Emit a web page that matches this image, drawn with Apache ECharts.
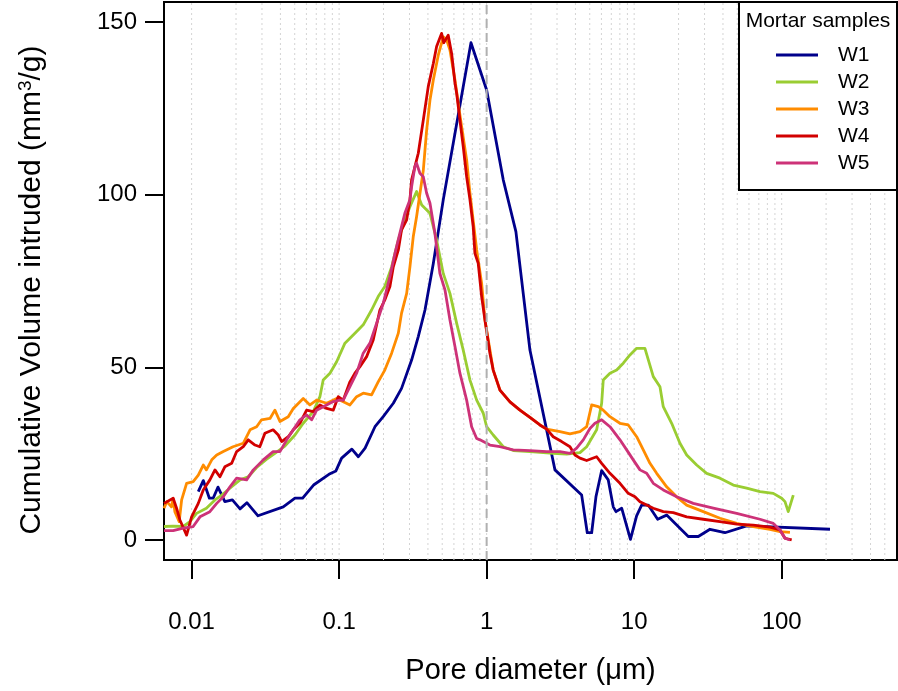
<!DOCTYPE html>
<html>
<head>
<meta charset="utf-8">
<script src="https://cdn.jsdelivr.net/npm/echarts@6/dist/echarts.min.js"></script>
<style>html,body{margin:0;padding:0;background:#fff}#chart{width:898px;height:691px}</style>
</head>
<body>
<div id="chart"></div>
<script>
// ---- data (pore diameter in µm, cumulative volume in mm3/g)
const seriesNames = ['W1', 'W2', 'W3', 'W4', 'W5'];
const xTickValues = [0.01, 0.1, 1, 10, 100];
const yTickValues = [0, 50, 100, 150];

const w1Diameter = [0.0111,0.0120,0.0132,0.0140,0.0151,0.0168,0.0189,0.0213,0.0237,0.0282,0.0418,0.0502,0.0566,0.0675,0.0853,0.0951,0.104,0.122,0.135,0.150,0.175,0.199,0.233,0.265,0.310,0.344,0.382,0.435,0.508,0.783,1.0,1.296,1.579,1.966,2.905,4.407,4.809,5.152,5.508,6.021,6.674,7.215,7.526,8.229,9.438,10.39,11.24,12.46,14.43,16.61,23.27,27.20,32.66,41.27,57.91,212.6];
const w1Volume   = [14.0,17.2,12.1,12.1,15.3,11.1,11.6,9.0,10.8,7.0,9.6,12.1,12.1,16.0,19.0,20.0,23.7,26.3,24.1,26.6,32.8,35.7,39.6,43.9,52.1,58.9,66.6,80.1,98.5,144.0,130.3,104.3,89.3,55.0,20.3,13.0,2.1,2.1,12.5,20.1,17.4,9.6,8.2,9.2,0.2,7.0,10.1,10.1,6.0,7.2,1.0,1.0,3.1,2.1,4.1,3.1];

const w2Diameter = [0.0065,0.0075,0.00877,0.00974,0.0108,0.0126,0.0144,0.0160,0.0187,0.0213,0.0242,0.0276,0.0323,0.0367,0.0429,0.0502,0.0571,0.0668,0.0741,0.0780,0.0867,0.0962,0.1095,0.128,0.1457,0.166,0.184,0.204,0.227,0.252,0.279,0.302,0.335,0.363,0.413,0.458,0.508,0.564,0.626,0.694,0.771,0.856,0.949,1.0,1.108,1.296,1.515,1.966,2.828,3.486,4.292,4.764,5.569,6.022,6.173,6.855,7.610,8.437,9.368,10.40,10.66,11.83,13.48,14.96,15.75,17.96,20.44,22.70,26.53,31.01,38.17,46.98,57.90,71.29,87.74,100,105.3,110.8,119.9];
const w2Volume   = [3.9,4.0,3.9,5.3,7.7,9.2,11.6,13.0,15.4,17.4,18.3,21.0,23.4,25.1,27.2,30.4,33.8,37.2,41.5,46.3,48.3,51.6,57.0,59.9,62.3,66.6,70.5,73.4,79.1,86.9,92.7,96.5,100.9,97.0,94.6,86.9,77.2,71.4,62.8,55.0,46.3,40.5,36.7,32.8,30.4,27.0,25.9,25.6,25.1,24.9,25.3,27.0,31.9,39.6,46.3,48.3,49.2,51.2,53.6,55.5,56.0,55.5,47.3,44.4,38.6,33.8,28.0,24.6,21.7,19.3,17.9,15.9,15.0,14.0,13.5,12.1,11.1,8.2,13.0];

const w3Diameter = [0.0065,0.0068,0.0073,0.0075,0.0077,0.00824,0.00856,0.00925,0.01025,0.0111,0.0120,0.0126,0.0137,0.0148,0.0164,0.0191,0.0224,0.0249,0.0276,0.0298,0.0340,0.0367,0.0397,0.0452,0.0489,0.0571,0.0634,0.0704,0.0823,0.0962,0.1184,0.1314,0.1457,0.166,0.184,0.204,0.227,0.252,0.265,0.287,0.302,0.318,0.335,0.372,0.392,0.413,0.435,0.470,0.508,0.536,0.564,0.610,0.642,0.677,0.732,0.771,0.856,0.925,0.974,1.053,1.108,1.231,1.439,1.682,1.966,2.298,2.552,3.141,3.671,4.292,4.764,5.151,5.711,6.173,6.855,8.012,9.120,10.40,11.53,12.80,14.21,16.61,19.42,22.70,29.41,38.17,49.53,64.16,83.31,97.4,113.8];
const w3Volume   = [9.2,11.1,9.6,12.0,8.2,5.3,11.6,16.4,16.9,18.8,21.7,20.3,23.2,24.6,25.6,27.0,28.0,31.9,32.8,34.8,35.2,37.6,34.3,35.7,38.1,41.0,39.1,40.5,39.6,41.0,39.1,41.5,42.5,42.0,45.8,49.2,54.1,59.9,65.7,71.4,79.1,87.8,93.6,107.0,118.7,127.4,133.2,140.4,145.7,144.8,141.9,133.2,126.5,119.7,110.0,100.4,84.0,74.3,63.7,55.0,49.2,43.4,40.0,37.6,35.5,33.3,32.1,31.4,30.7,31.4,32.8,39.1,38.6,37.6,35.7,33.8,33.3,29.9,26.1,22.2,19.3,15.4,12.5,10.1,8.2,6.3,4.8,3.9,3.1,2.4,2.2];

const w4Diameter = [0.0065,0.0075,0.00791,0.00833,0.00925,0.0100,0.0111,0.0120,0.0133,0.0144,0.01555,0.0168,0.0187,0.0202,0.0224,0.0242,0.0269,0.0290,0.0314,0.0357,0.0387,0.0408,0.0452,0.0489,0.0542,0.0602,0.0668,0.0741,0.0823,0.0912,0.0986,0.1066,0.1184,0.128,0.1384,0.1536,0.1703,0.189,0.204,0.221,0.233,0.252,0.265,0.287,0.302,0.310,0.344,0.372,0.402,0.435,0.458,0.495,0.512,0.549,0.579,0.610,0.626,0.659,0.694,0.732,0.771,0.811,0.833,0.877,0.925,0.974,1.053,1.108,1.231,1.439,1.682,1.966,2.298,2.552,2.828,3.225,3.671,3.969,4.292,4.764,5.569,6.022,6.855,8.012,9.120,10.13,10.95,13.48,15.75,18.41,22.70,29.41,38.17,49.53,64.16,83.31,97.4,105.3,116.9];
const w4Volume   = [10.6,12.1,9.2,5.8,1.4,6.7,10.6,14.5,17.4,20.3,18.3,21.2,22.2,25.6,27.0,29.0,27.5,27.0,30.9,31.9,30.4,28.5,29.9,31.9,33.8,37.6,37.2,39.1,38.1,37.6,41.5,40.5,45.8,48.3,50.2,53.1,57.9,66.6,69.5,73.4,79.1,84.0,89.8,92.7,98.5,104.3,112.0,121.6,131.3,138.0,142.9,146.7,144.0,146.2,140.9,132.3,129.4,121.6,113.9,105.2,98.5,90.7,83.0,80.1,70.5,63.7,54.0,49.2,43.4,40.0,37.6,35.5,33.3,32.1,29.9,28.5,27.0,24.6,23.7,23.0,24.1,22.2,19.3,16.4,13.5,12.5,11.1,9.2,8.2,7.9,6.7,6.0,5.3,4.6,4.3,3.7,2.9,0.5,0.0];

const w5Diameter = [0.0065,0.0075,0.00877,0.01025,0.0114,0.0133,0.0148,0.0164,0.0182,0.0202,0.0236,0.0262,0.0306,0.0357,0.0397,0.0441,0.0489,0.0542,0.0602,0.0651,0.0704,0.0823,0.0912,0.1013,0.1066,0.1314,0.1457,0.1618,0.1796,0.199,0.221,0.239,0.258,0.279,0.302,0.310,0.326,0.335,0.353,0.372,0.392,0.413,0.446,0.482,0.522,0.564,0.610,0.659,0.732,0.791,0.856,0.901,1.0,1.053,1.231,1.515,1.966,2.552,3.141,3.671,4.076,4.519,5.015,5.424,6.022,6.855,8.012,8.897,9.86,10.95,12.15,13.48,15.75,19.42,25.16,34.39,49.53,71.29,87.74,97.4,105.3,113.8];
const w5Volume   = [2.7,2.7,3.4,3.9,6.7,8.2,10.6,12.5,15.4,17.9,17.4,20.3,23.2,25.6,25.6,29.0,31.9,34.8,36.2,34.8,37.6,39.1,40.1,40.5,40.5,48.3,54.1,57.0,62.8,68.5,76.3,83.0,88.8,94.6,98.5,102.3,108.1,109.1,106.2,105.2,100.4,97.5,88.8,77.2,72.4,63.7,56.0,48.3,40.5,32.8,29.4,29.0,28.0,27.5,27.0,26.1,25.9,25.6,25.6,25.1,26.6,29.0,32.3,33.8,34.8,32.8,29.0,26.1,23.2,20.3,19.3,16.4,14.5,12.5,10.6,9.2,7.7,6.0,4.8,2.9,0.5,0.0];

const seriesDiameters = [w1Diameter, w2Diameter, w3Diameter, w4Diameter, w5Diameter];
const seriesVolumes = [w1Volume, w2Volume, w3Volume, w4Volume, w5Volume];
const seriesColors = ['#00008B', '#9ACD32', '#FF8C00', '#D20000', '#CD3278'];

// vertical guide lines at 1..9 x 10^n, and the reference line at 1 µm
const gridMultipliers = [1,2,3,4,5,6,7,8,9];
const gridDecades = [0.01, 0.1, 1, 10, 100];
const referenceDiameter = 1;
const yMin = -5.8, yMax = 155.8;

const gridValues = [];
gridDecades.forEach(d => gridMultipliers.forEach(m => { const v = +(m * d).toPrecision(3); if (v <= 500) gridValues.push(v); }));

function verticalSegments(values) {
  const out = [];
  values.forEach(v => { out.push([v, yMin]); out.push([v, yMax]); out.push([v, NaN]); });
  return out;
}

const FONT = 'Liberation Sans, Arial, Helvetica, sans-serif';

const chart = echarts.init(document.getElementById('chart'), null, {renderer: 'canvas'});

const series = [{
  type: 'line', name: '_grid', silent: true, showSymbol: false, symbol: 'none', z: 1,
  connectNulls: false, clip: true,
  data: verticalSegments(gridValues),
  lineStyle: {type: [2, 3], color: '#d4d4d4', width: 1},
  emphasis: {disabled: true}, tooltip: {show: false}
}];
seriesNames.forEach((n, i) => {
  series.push({
    type: 'line', name: n, showSymbol: false, symbol: 'none',
    data: seriesDiameters[i].map((d, k) => [d, seriesVolumes[i][k]]),
    lineStyle: {color: seriesColors[i], width: 2.8, join: 'round'},
    itemStyle: {color: seriesColors[i]},
    z: 2 + i * 0.01,
    emphasis: {disabled: true}
  });
});
series.push({
  type: 'line', name: '_ref', silent: true, showSymbol: false, symbol: 'none', z: 3,
  connectNulls: false, clip: true,
  data: verticalSegments([referenceDiameter]),
  lineStyle: {type: [9, 5], color: '#b0b0b0', width: 2},
  emphasis: {disabled: true}
});

chart.setOption({
  animation: false,
  backgroundColor: '#ffffff',
  grid: {left: 164, right: 1, top: 2, bottom: 131, show: true, borderColor: '#000', borderWidth: 2, backgroundColor: 'transparent'},
  xAxis: {
    type: 'log', logBase: 10, min: 0.0065, max: 605,
    name: 'Pore diameter (μm)', nameLocation: 'middle', nameGap: 96,
    nameTextStyle: {fontFamily: FONT, fontSize: 29, color: '#000'},
    axisLine: {show: true, onZero: false, lineStyle: {color: '#000', width: 2}},
    axisTick: {show: true, inside: false, length: 19, lineStyle: {color: '#000', width: 2}, customValues: xTickValues},
    axisLabel: {show: true, margin: 50, fontFamily: FONT, fontSize: 24, color: '#000', customValues: xTickValues,
      formatter: v => String(+(+v).toPrecision(3))},
    splitLine: {show: false}, minorTick: {show: false}, minorSplitLine: {show: false}
  },
  yAxis: {
    type: 'value', min: yMin, max: yMax,
    name: 'Cumulative Volume intruded (mm{sup|3}/g)', nameLocation: 'middle', nameGap: 116, nameRotate: 90,
    nameTextStyle: {fontFamily: FONT, fontSize: 30, color: '#000', padding: [0, 18, 0, 0],
      rich: {sup: {fontFamily: FONT, fontSize: 19, color: '#000', verticalAlign: 'top', padding: [0, 0, 13, 0]}}},
    axisLine: {show: true, onZero: false, lineStyle: {color: '#000', width: 2}},
    axisTick: {show: true, inside: false, length: 19, lineStyle: {color: '#000', width: 2}, customValues: yTickValues},
    axisLabel: {show: true, margin: 27, fontFamily: FONT, fontSize: 24, color: '#000', customValues: yTickValues},
    splitLine: {show: false}
  },
  legend: {
    data: seriesNames, orient: 'vertical', left: 776, top: 41.5, padding: 0,
    itemWidth: 42, itemHeight: 3, itemGap: 0, icon: 'rect',
    textStyle: {fontFamily: FONT, fontSize: 21, color: '#000', lineHeight: 27, padding: [0, 0, 0, 15]},
    selectedMode: false, z: 20
  },
  graphic: [
    {type: 'rect', z: 15, shape: {x: 739, y: 2, width: 158, height: 188}, style: {fill: '#fff', stroke: '#000', lineWidth: 2}},
    {type: 'text', z: 21, x: 818, y: 21, style: {text: 'Mortar samples', fontFamily: FONT, fontSize: 21, fill: '#000', align: 'center', verticalAlign: 'middle'}}
  ],
  series: series
});
</script>
</body>
</html>
